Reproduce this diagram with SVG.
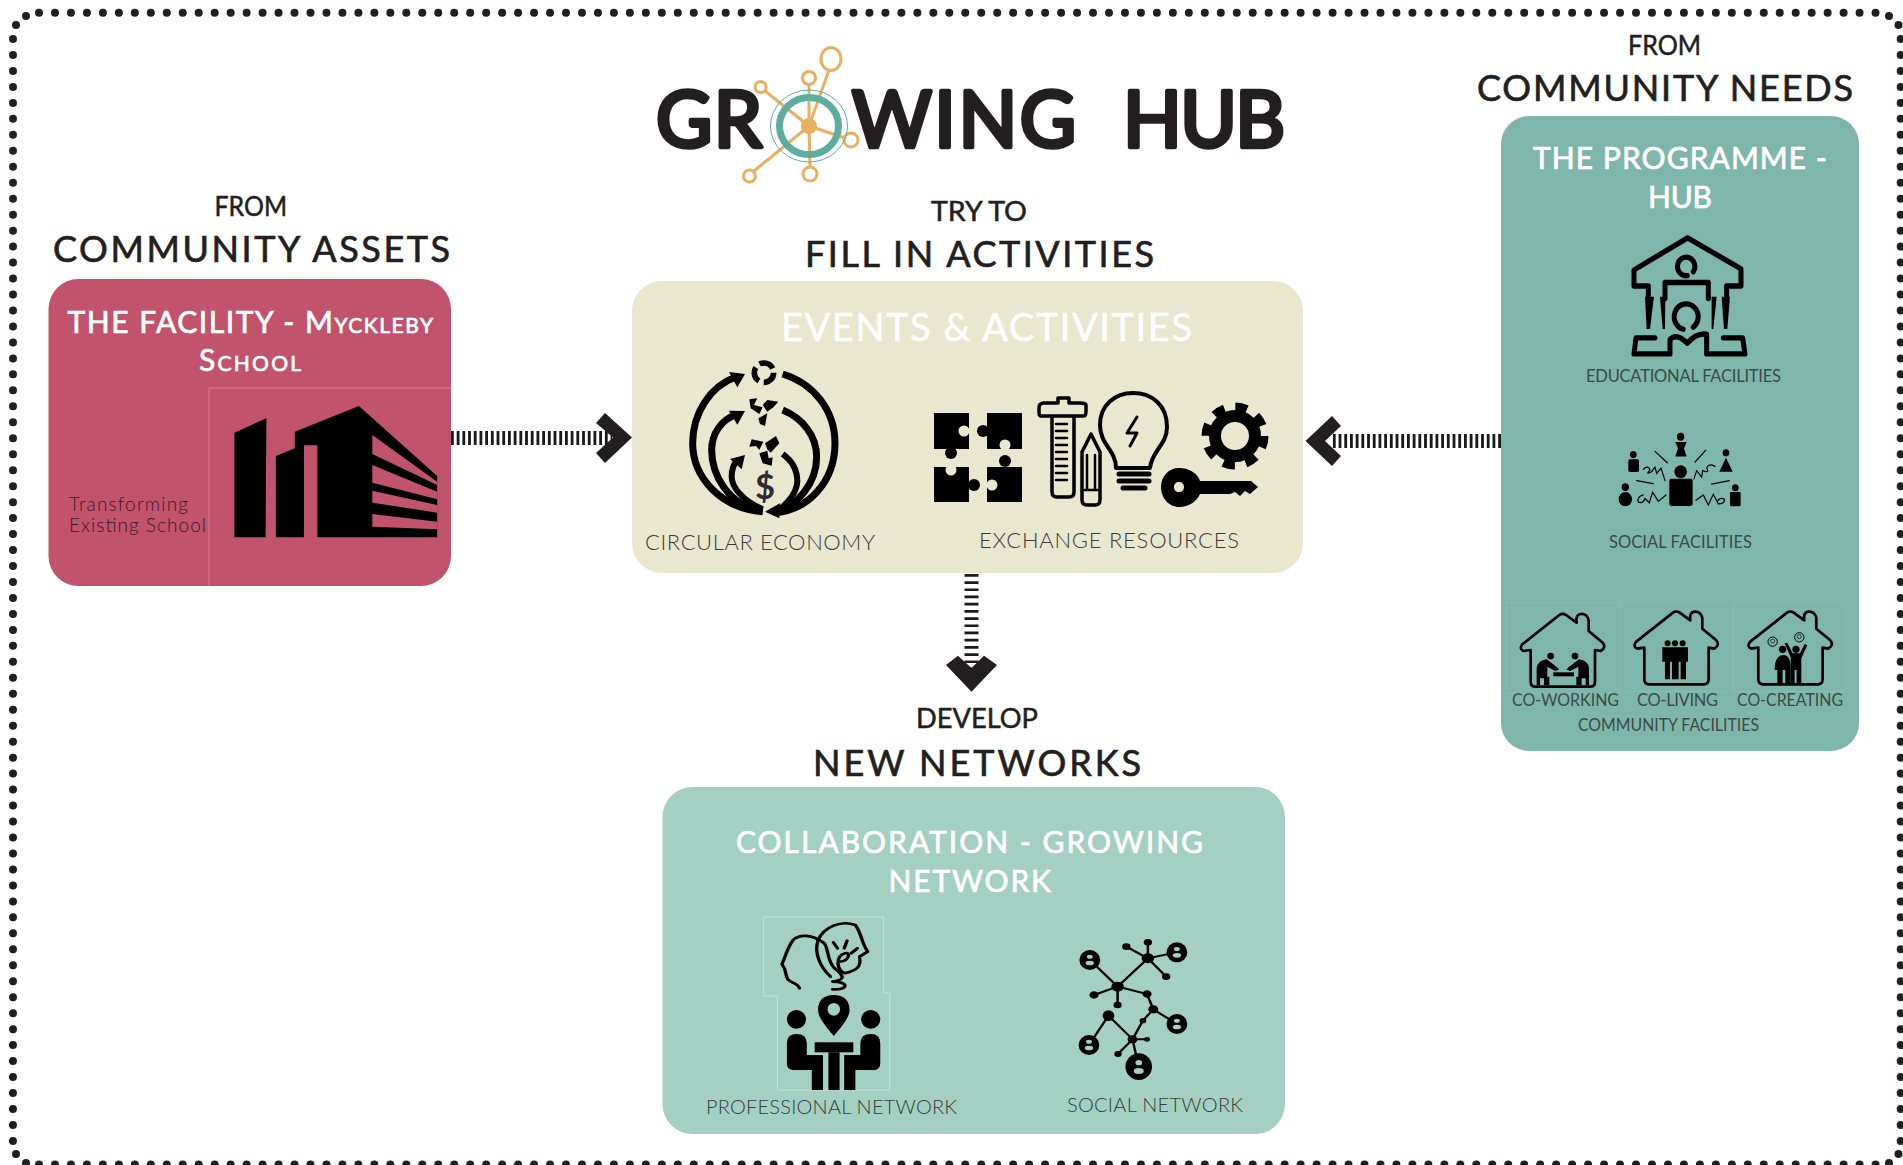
<svg xmlns="http://www.w3.org/2000/svg" xmlns:xlink="http://www.w3.org/1999/xlink" width="1903" height="1165" viewBox="0 0 1903 1165">
<style>
text{font-family:"Lato","Noto Sans","Liberation Sans",sans-serif}
.logo{font-size:77px;font-weight:400;fill:#231f20;stroke:#231f20;stroke-width:4.5;stroke-linejoin:round}
.h1{font-size:36px;fill:#231f20;stroke:#231f20;stroke-width:.7}
.h2{font-size:26px;fill:#231f20;stroke:#231f20;stroke-width:.5}
.t{font-size:30px;fill:#fff;stroke:#fff;stroke-width:.7}
.big{font-size:38px;fill:#fff;stroke:#fff;stroke-width:.5}
.l{font-size:22px;font-weight:300;fill:#3a3a38}
.s{font-size:16.5px;font-weight:400;fill:#3d4a48}
.dots{fill:none;stroke:#231f20;stroke-width:8;stroke-linecap:round}
.dot{fill:#231f20}
.bars{fill:none;stroke:#1a1a1a;stroke-width:14}
.chev{fill:#231f20}
.o{fill:none;stroke:#e8b060;stroke-width:3}
.k{fill:#000}
.kl{fill:none;stroke:#000;stroke-linecap:round;stroke-linejoin:round}
.faint{fill:none;stroke:#fff;stroke-opacity:.25;stroke-width:1}
</style>
<defs>
<path id="house" d="M122 240V335Q122 350 137 350H300Q315 350 315 335V240L332 243Q350 232 338 218L296 183V150Q290 130 272 132Q256 135 260 158L228 135Q218 128 208 135L98 222Q86 236 100 243Z" fill="none" stroke="#000" stroke-width="8" stroke-linejoin="round"/>
</defs>

<g id="border">
<path class="dots" stroke-dasharray="0 15.97" d="M39 12.7H1876"/>
<path class="dots" stroke-dasharray="0 15.97" d="M39 1164.5H1876"/>
<path class="dots" stroke-dasharray="0 15.97" d="M13 39V1141"/>
<path class="dots" stroke-dasharray="0 15.97" d="M1900.7 39V1141"/>
<circle class="dot" cx="26" cy="16" r="4"/><circle class="dot" cx="16" cy="25" r="4"/>
<circle class="dot" cx="1889" cy="16" r="4"/><circle class="dot" cx="1898.5" cy="25" r="4"/>
<circle class="dot" cx="1898.5" cy="1154" r="4"/><circle class="dot" cx="1889" cy="1163" r="4"/>
<circle class="dot" cx="16" cy="1154" r="4"/><circle class="dot" cx="26" cy="1163" r="4"/>
</g>

<g id="connectors">
<line class="bars" stroke-dasharray="2.8 2.9" x1="451" y1="438" x2="612" y2="438"/>
<polygon class="chev" points="605,413 596,423 613,437.5 596,453 605,463 632,437.5"/>
<line class="bars" stroke-dasharray="2.8 2.9" x1="1501" y1="441" x2="1332" y2="441"/>
<polygon class="chev" points="1332,416 1341,426 1325,441 1341,456 1332,466 1305.5,441"/>
<line class="bars" stroke-dasharray="2.7 4.5" x1="971.5" y1="574" x2="971.5" y2="672"/>
<polygon class="chev" points="946,665 958,655.7 971.5,668 984,655.7 997,665 971.5,691.7"/>
</g>

<g id="logo">
<text class="logo" x="656" y="147" textLength="106">GR</text>
<text class="logo" x="852" y="147" textLength="224">WING</text>
<text class="logo" x="1123" y="147" textLength="162">HUB</text>
<g class="o">
<line x1="809" y1="126" x2="829" y2="70"/><line x1="809" y1="126" x2="809" y2="84"/><line x1="809" y1="126" x2="765" y2="91"/>
<line x1="809" y1="126" x2="845" y2="138"/><line x1="809" y1="126" x2="810" y2="167"/><line x1="809" y1="126" x2="754" y2="171"/>
<ellipse cx="831" cy="59" rx="10" ry="11.5"/><circle cx="809" cy="78" r="6.5"/><circle cx="760.6" cy="87" r="5.5"/>
<circle cx="851" cy="140" r="7"/><circle cx="810" cy="174" r="7"/><circle cx="749.5" cy="176" r="6"/>
</g>
<ellipse cx="809" cy="126" rx="29.5" ry="28.5" fill="none" stroke="#5dae9f" stroke-width="7"/>
<ellipse cx="809" cy="126" rx="38.5" ry="36" fill="none" stroke="#5dae9f" stroke-width="1"/>
<circle cx="809" cy="126" r="8" fill="#e8b060"/>
</g>

<g id="headings">
<text class="h2" x="931" y="221" textLength="96" lengthAdjust="spacingAndGlyphs">TRY  TO</text>
<text class="h1" x="805" y="267" textLength="349">FILL IN ACTIVITIES</text>
<text class="h2" x="214.5" y="216" textLength="72.5" lengthAdjust="spacingAndGlyphs">FROM</text>
<text class="h1" x="53" y="262" textLength="397">COMMUNITY ASSETS</text>
<text class="h2" x="1628" y="55" textLength="73" lengthAdjust="spacingAndGlyphs">FROM</text>
<text class="h1" x="1477" y="101" textLength="376">COMMUNITY NEEDS</text>
<text class="h2" x="916" y="728" textLength="122" lengthAdjust="spacingAndGlyphs">DEVELOP</text>
<text class="h1" x="813" y="775.5" textLength="328">NEW NETWORKS</text>
</g>

<g id="facility">
<rect x="48.5" y="279" width="402.5" height="307" rx="30" fill="#c2536c"/>
<path class="faint" d="M451 388H209V586"/>
<text class="t" x="67.5" y="333" textLength="365.5">THE FACILITY - <tspan style="font-variant:small-caps">Myckleby</tspan></text>
<text class="t" x="199" y="371" textLength="102" style="font-variant:small-caps">School</text>
<text x="69" y="511" textLength="119" style="font-size:19px;font-weight:300;fill:#3a1a25">Transforming</text>
<text x="69" y="532" textLength="137" style="font-size:19px;font-weight:300;fill:#3a1a25">Existing School</text>
<g transform="translate(30 180) scale(.3953 .3333)">
<polygon class="k" points="517,758 598,715 596,1072 517,1072"/>
<polygon class="k" points="622,828 670,805 670,755 832,678 1030,888 1030,1072 727,1072 727,796 693,796 693,1072 622,1072"/>
<g fill="#c2536c"><polygon points="866,765 1030,905 1030,915 866,822"/><polygon points="866,855 1030,935 1030,958 866,908"/><polygon points="866,932 1030,975 1030,998 866,968"/><polygon points="866,1002 1030,1025 1030,1048 866,1040"/></g>
</g>
</g>

<g id="events">
<rect x="632" y="281" width="671" height="292" rx="30" fill="#eae7cf"/>
<text class="big" x="781" y="341" textLength="411">EVENTS &amp; ACTIVITIES</text>
<text class="l" x="645" y="550" textLength="230">CIRCULAR ECONOMY</text>
<text class="l" x="979" y="548" textLength="260">EXCHANGE RESOURCES</text>
<g transform="translate(680 350) scale(.3333)">
<g fill="none" stroke="#000" stroke-width="21">
<path d="M248 485C120 475 38 380 38 280C38 190 90 110 165 82"/>
<path d="M308 72C400 100 465 180 465 280C465 395 385 480 285 488"/>
<path d="M248 485C140 465 95 370 95 300C95 250 125 210 165 195"/>
<path d="M308 180C370 205 410 260 410 320C410 400 350 470 285 488"/>
<path d="M248 478C185 450 155 410 155 380C155 360 160 345 170 332" stroke-width="18"/>
<path d="M308 312C340 335 352 365 352 395C350 430 320 465 285 488" stroke-width="18"/>
</g>
<g class="k"><polygon points="195,72 147,66 172,112"/><polygon points="195,183 147,182 172,224"/><polygon points="195,315 150,327 185,358"/><polygon points="255,485 300,460 298,505"/></g>
<circle cx="252" cy="68" r="29" fill="none" stroke="#000" stroke-width="17" stroke-dasharray="46 15"/>
<g class="k"><polygon points="208,148 232,145 222,165 248,172 238,192 212,175"/><polygon points="248,165 262,150 295,155 280,172 262,185"/><polygon points="235,205 262,190 255,228 240,222"/>
<polygon points="208,290 215,268 250,275 238,300 228,288"/><polygon points="255,280 288,258 298,280 272,308 262,298"/><polygon points="238,310 262,302 266,325 278,322 275,347 248,340"/></g>
<text x="255" y="447" text-anchor="middle" style="font-size:104px;font-weight:700;fill:#2f2b33">$</text>
</g>
<g id="puzzle">
<rect class="k" x="934" y="413" width="35" height="36"/><rect class="k" x="987" y="413" width="35" height="36"/>
<rect class="k" x="934" y="467" width="35" height="35"/><rect class="k" x="987" y="467" width="35" height="35"/>
<circle cx="964" cy="431" r="5.5" fill="#eae7cf"/><circle cx="983" cy="431" r="6" class="k"/>
<circle cx="951" cy="453" r="6" class="k"/><circle cx="1005" cy="445" r="5.5" fill="#eae7cf"/>
<circle cx="951" cy="470" r="5.5" fill="#eae7cf"/><circle cx="1005" cy="461" r="6" class="k"/>
<circle cx="974" cy="485" r="6" class="k"/><circle cx="992" cy="485" r="5.5" fill="#eae7cf"/>
</g>
<g id="tools" class="kl" stroke-width="3.5">
<path d="M1052 416V492Q1052 497 1057 497H1069Q1074 497 1074 492V416M1041 416H1084Q1086 416 1086 411V405Q1086 403 1080 403H1069V398H1058V403H1044Q1039 403 1039 408V412Q1039 416 1041 416Z"/>
<path d="M1056 424H1067M1056 431H1067M1056 438H1067M1056 445H1067M1056 452H1067M1056 459H1067M1056 466H1067M1056 473H1067M1056 480H1067" stroke-width="2.5"/>
<path d="M1082 452L1091 434L1100 452V500Q1100 505 1095 505H1087Q1082 505 1082 500Z" fill="#eae7cf"/>
<path d="M1087 455V490M1095 455V490M1082 490H1100" stroke-width="2.5"/>
<path d="M1116 468C1116 450 1100 445 1100 425C1100 405 1115 393 1133 393C1152 393 1167 405 1167 427C1167 445 1152 450 1150 468Z" fill="#eae7cf" stroke-width="4"/>
<path d="M1137 417L1127 433H1137L1130 446" stroke-width="3"/>
<path d="M1119 474H1149M1119 481H1149M1123 488H1145" stroke-width="5"/>
<circle cx="1235" cy="436" r="20" stroke-width="12"/>
<circle cx="1235" cy="436" r="29" stroke-width="9" stroke-linecap="butt" stroke-dasharray="11.8 11"/>
</g>
<path fill-rule="evenodd" class="k" d="M1179 468C1190 468 1198 474 1200 481H1251L1258 487L1250 494L1245 491L1240 496L1235 492L1230 494H1200C1197 501 1189 507 1179 507C1169 507 1161 498 1161 487C1161 476 1169 468 1179 468ZM1179 482C1176 482 1174 484 1174 487C1174 490 1176 492 1179 492C1182 492 1184 490 1184 487C1184 484 1182 482 1179 482Z"/>
</g>

<g id="collaboration">
<rect x="662.5" y="787" width="622.5" height="347" rx="30" fill="#a3d0c2"/>
<text class="t" x="736" y="853" textLength="467">COLLABORATION - GROWING</text>
<text class="t" x="888.5" y="892" textLength="162.5">NETWORK</text>
<text class="l" x="706" y="1114" textLength="251" style="font-size:20px">PROFESSIONAL NETWORK</text>
<text class="l" x="1067" y="1112" textLength="176" style="font-size:20px">SOCIAL NETWORK</text>
<path d="M763.6 917H883.6V993H889.8V1090H777.4V996H763.6Z" fill="none" stroke="#c4e2d8" stroke-width="1"/>
<g transform="translate(650 780) scale(.4149 .3333)">
<g fill="none" stroke="#000" stroke-width="8" stroke-linecap="round" stroke-linejoin="round">
<path d="M360 625C358 610 340 610 332 598C325 585 330 570 318 553C325 535 330 505 345 480C360 462 390 462 420 490C432 510 425 540 445 565C470 590 470 600 440 605C480 605 480 630 440 628"/>
<path d="M435 590C410 560 395 520 405 480C420 440 460 420 495 435C510 460 510 490 525 515L505 530C510 560 500 570 470 580C450 570 445 530 470 520C485 515 480 545 455 545"/>
<path d="M442 487L452 505M475 482L468 505M500 505L485 520"/>
</g>
<path class="k" d="M443 645C470 645 481 665 481 690C481 715 455 750 443 768C431 750 405 715 405 690C405 665 416 645 443 645Z"/>
<ellipse cx="443" cy="688" rx="15" ry="19" fill="#a3d0c2"/>
<ellipse class="k" cx="353" cy="718" rx="23" ry="28"/><ellipse class="k" cx="532" cy="718" rx="23" ry="28"/>
<path class="k" d="M330 790Q330 762 353 762Q378 762 378 790V825H417V930H390V870H345Q330 870 330 850Z"/>
<path class="k" d="M555 790Q555 762 532 762Q507 762 507 790V825H468V930H495V870H540Q555 870 555 850Z"/>
<rect class="k" x="397" y="787" width="93" height="30"/><rect class="k" x="430" y="817" width="27" height="113"/>
<path fill="none" stroke="#000" stroke-width="6" d="M1060 540L1127 620L1200 535L1270 517M1148 500L1200 535L1244 590M1200 487V535M1070 645L1127 620L1198 642L1213 688L1270 732M1127 620V675M1213 688L1188 722L1163 778L1178 860M1105 707L1163 778L1198 778M1163 778L1128 822M1105 707L1058 795"/>
<g class="k">
<ellipse cx="1127" cy="620" rx="15" ry="15"/><ellipse cx="1200" cy="535" rx="15" ry="15"/>
<ellipse cx="1148" cy="500" rx="10" ry="10"/><ellipse cx="1200" cy="487" rx="10" ry="10"/><ellipse cx="1244" cy="590" rx="10" ry="10"/>
<ellipse cx="1070" cy="645" rx="11" ry="11"/><ellipse cx="1127" cy="675" rx="10" ry="10"/><ellipse cx="1198" cy="642" rx="11" ry="11"/>
<ellipse cx="1213" cy="688" rx="12" ry="12"/><ellipse cx="1105" cy="707" rx="14" ry="16"/><ellipse cx="1188" cy="722" rx="8" ry="8"/>
<ellipse cx="1163" cy="778" rx="12" ry="12"/><ellipse cx="1198" cy="778" rx="7" ry="7"/><ellipse cx="1128" cy="822" rx="9" ry="9"/>
<ellipse cx="1060" cy="540" rx="25" ry="30"/><ellipse cx="1270" cy="517" rx="25" ry="30"/><ellipse cx="1270" cy="732" rx="25" ry="30"/><ellipse cx="1058" cy="795" rx="25" ry="30"/><ellipse cx="1178" cy="860" rx="32" ry="40"/>
</g>
<g fill="#a3d0c2">
<ellipse cx="1060" cy="530" rx="7" ry="6"/><ellipse cx="1060" cy="549" rx="10" ry="7"/>
<ellipse cx="1270" cy="507" rx="7" ry="6"/><ellipse cx="1270" cy="526" rx="10" ry="7"/>
<ellipse cx="1270" cy="722" rx="7" ry="6"/><ellipse cx="1270" cy="741" rx="10" ry="7"/>
<ellipse cx="1058" cy="785" rx="7" ry="6"/><ellipse cx="1058" cy="804" rx="10" ry="7"/>
<ellipse cx="1178" cy="848" rx="8" ry="8"/><ellipse cx="1178" cy="873" rx="12" ry="9"/>
</g>
</g>
</g>

<g id="programme">
<rect x="1501" y="116" width="358" height="635" rx="28" fill="#7fb6ab"/>
<text class="t" x="1533" y="169" textLength="294">THE PROGRAMME -</text>
<text class="t" x="1648" y="207.5" textLength="64">HUB</text>
<text class="s" x="1586" y="382" textLength="195">EDUCATIONAL FACILITIES</text>
<text class="s" x="1609" y="548" textLength="143">SOCIAL FACILITIES</text>
<text class="s" x="1512" y="706" textLength="107" lengthAdjust="spacingAndGlyphs">CO-WORKING</text>
<text class="s" x="1637" y="706" textLength="81">CO-LIVING</text>
<text class="s" x="1737" y="706" textLength="106" lengthAdjust="spacingAndGlyphs">CO-CREATING</text>
<text class="s" x="1578" y="731" textLength="181" lengthAdjust="spacingAndGlyphs">COMMUNITY FACILITIES</text>
<g transform="translate(1480 20) scale(.3333 .3571)">
<g fill="none" stroke="#000" stroke-width="15" stroke-linejoin="round" stroke-linecap="round">
<path d="M505 778V745H462V700L623 610L783 697V745H740V775"/>
<path d="M555 780V735H685V780"/>
<path d="M640 705A26 26 0 1 0 622 716"/><path d="M640 860A36 36 0 1 0 610 866"/>
<path d="M462 935L468 890H525M462 935H570V895Q590 875 622 905Q650 875 680 880V935H795L788 890H730"/>
</g>
<g class="k"><polygon points="495,775 522,775 510,865 500,865"/><polygon points="540,775 556,775 555,865 548,865"/><polygon points="695,775 710,775 700,865 695,865"/><polygon points="725,775 750,775 742,865 732,865"/></g>
<g class="k">
<circle cx="602" cy="1167" r="11"/><path d="M586 1182H620L612 1200L620 1222H586L594 1200Z"/>
<circle cx="460" cy="1217" r="10"/><rect x="445" y="1230" width="32" height="36" rx="5"/>
<circle cx="738" cy="1212" r="10"/><polygon points="718,1265 758,1265 738,1226"/>
<circle cx="436" cy="1308" r="11"/><ellipse cx="436" cy="1342" rx="20" ry="20"/>
<circle cx="766" cy="1310" r="10"/><rect x="750" y="1322" width="32" height="40" rx="4"/>
<ellipse cx="602" cy="1265" rx="19" ry="18"/><rect x="568" y="1285" width="70" height="76" rx="6"/>
</g>
<g fill="none" stroke="#000" stroke-width="3.5" stroke-linecap="round">
<path d="M525 1208L562 1240M677 1205L645 1238M470 1290L520 1298M695 1300L748 1290"/>
<path d="M490 1258Q505 1245 510 1260Q495 1275 515 1265L525 1252L530 1270L543 1255L555 1290"/>
<path d="M705 1250Q685 1240 680 1255Q690 1270 668 1262L665 1280L650 1262L642 1285"/>
<path d="M490 1330Q470 1335 475 1350Q490 1355 495 1340L508 1352L518 1322L535 1348L558 1330"/>
<path d="M648 1345L670 1330L685 1358L700 1328L715 1355Q735 1355 733 1342Q720 1335 712 1348"/>
</g>
</g>
<g transform="translate(1490 570) scale(.3333)">
<rect class="faint" x="49" y="97" width="336" height="273"/><rect class="faint" x="391" y="94" width="336" height="270"/><rect class="faint" x="733" y="94" width="336" height="270"/>
<use xlink:href="#house" href="#house"/>
<use xlink:href="#house" href="#house" x="341" y="-7"/>
<use xlink:href="#house" href="#house" x="683" y="-7"/>
<g class="k">
<circle cx="182" cy="258" r="10"/><circle cx="255" cy="258" r="10"/>
<path d="M140 345V295Q142 272 170 268L205 295L198 304L172 290V320H178V345H162V325H150V345Z"/>
<path d="M297 345V295Q295 272 267 268L232 295L239 304L265 290V320H259V345H275V325H287V345Z"/>
<rect x="190" y="307" width="62" height="12"/>
<path d="M190 300H208L204 296H190ZM247 300H229L233 296H247Z"/>
<circle cx="533" cy="220" r="9"/><circle cx="555" cy="220" r="9"/><circle cx="578" cy="220" r="9"/>
<path d="M517 232H594V275H588V328H572V275H566V328H546V275H540V328H525V275H517Z"/>
<circle cx="878" cy="238" r="11"/><circle cx="918" cy="238" r="11"/>
<path d="M854 295Q856 255 880 255Q902 255 902 295V345H886V300H878V345H862V300H854Z"/>
<path d="M884 220L892 218L908 250H930L944 222L952 226L934 265V345H920V300H914V345H902V262Z"/>
</g>
<g fill="none" stroke="#000" stroke-width="3">
<circle cx="848" cy="215" r="14"/><circle cx="928" cy="202" r="14"/>
<circle cx="848" cy="213" r="6" stroke-width="2"/><circle cx="928" cy="200" r="6" stroke-width="2"/>
</g>
</g>
</g>
</svg>
